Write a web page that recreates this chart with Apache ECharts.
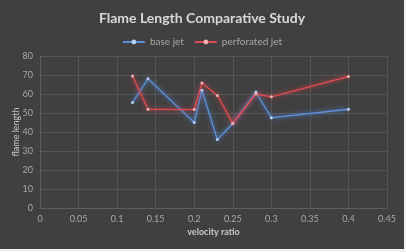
<!DOCTYPE html>
<html>
<head>
<meta charset="utf-8">
<script src="https://cdn.jsdelivr.net/npm/echarts@6/dist/echarts.min.js"></script>
<style>
html, body { margin: 0; padding: 0; background: #f2f2f2; }
#chart { position: absolute; left: 0; top: 0; width: 404px; height: 249px; background: #404040; }
</style>
</head>
<body>
<div id="chart"></div>
<script>
// velocity ratio (x) and flame length (y)
var baseX = [0.12, 0.14, 0.2, 0.21, 0.23, 0.25, 0.28, 0.3, 0.4];
var baseY = [55.5, 68, 45, 62, 36, 44.5, 61, 47.5, 52];
var perfX = [0.12, 0.14, 0.2, 0.21, 0.23, 0.25, 0.28, 0.3, 0.4];
var perfY = [69.5, 52, 51.8, 65.8, 59.2, 44.5, 60, 58.5, 69.2];

function pairs(xs, ys){
	var out = [];
	for(var i = 0; i < xs.length; i++){
		out.push([xs[i], ys[i]]);
	}
	return out;
}

var myChart = echarts.init(document.getElementById('chart'));
var font = 'Lato, "Open Sans", sans-serif';
var option = {
	animation: false,
	title: {
		text: 'Flame Length Comparative Study',
		left: 'center',
		top: 6,
		textStyle: { color: '#d8d8d8', fontSize: 14, fontWeight: 'bold', fontFamily: font }
	},
	legend: {
		top: 32,
		left: 'center',
		itemWidth: 22,
		itemHeight: 6,
		itemGap: 10,
		textStyle: { color: '#a8a8a8', fontSize: 10, fontFamily: font },
		data: ['base jet', 'perforated jet']
	},
	grid: { left: 40, right: 17, top: 56, bottom: 41, outerBoundsMode: 'none', containLabel: false },
	xAxis: {
		type: 'value',
		min: 0, max: 0.45, interval: 0.05,
		name: 'velocity ratio',
		nameLocation: 'middle',
		nameGap: 20,
		nameMoveOverlap: false,
		nameTextStyle: { color: '#c8c8c8', fontSize: 9, fontWeight: 'bold', fontFamily: font },
		axisLine: { show: true, lineStyle: { color: '#5e5e5e' } },
		axisTick: { show: false },
		axisLabel: { color: '#a8a8a8', fontSize: 9, margin: 7, fontFamily: font },
		splitLine: { show: true, lineStyle: { color: '#555555' } }
	},
	yAxis: {
		type: 'value',
		min: 0, max: 80, interval: 10,
		name: 'flame length',
		nameLocation: 'middle',
		nameGap: 19,
		nameMoveOverlap: false,
		nameTextStyle: { color: '#c8c8c8', fontSize: 9, fontFamily: font },
		axisLine: { show: true, lineStyle: { color: '#5e5e5e' } },
		axisTick: { show: false },
		axisLabel: { color: '#a8a8a8', fontSize: 9, margin: 7, fontFamily: font },
		splitLine: { show: true, lineStyle: { color: '#555555' } }
	},
	series: [
		{
			name: 'base jet',
			type: 'line',
			data: pairs(baseX, baseY),
			symbol: 'circle',
			symbolSize: 3,
			itemStyle: { color: '#b8d0f0', borderWidth: 0 },
			lineStyle: { color: '#5b8fd8', width: 1.4, shadowColor: 'rgba(90,150,240,0.9)', shadowBlur: 5 }
		},
		{
			name: 'perforated jet',
			type: 'line',
			data: pairs(perfX, perfY),
			symbol: 'circle',
			symbolSize: 3,
			itemStyle: { color: '#f0b0b4', borderWidth: 0 },
			lineStyle: { color: '#df4a4e', width: 1.4, shadowColor: 'rgba(240,70,80,0.9)', shadowBlur: 5 }
		}
	]
};
myChart.setOption(option);
</script>
</body>
</html>
